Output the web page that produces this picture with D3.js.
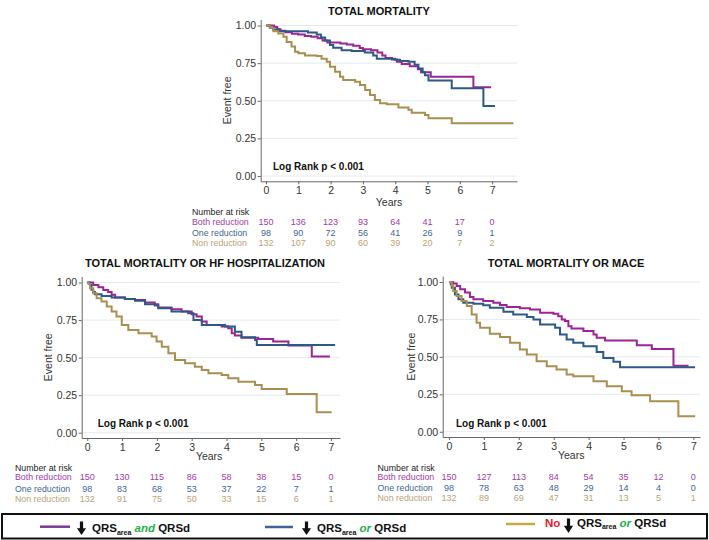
<!DOCTYPE html>
<html lang="en">
<head>
<meta charset="UTF-8">
<script src="https://cdn.jsdelivr.net/npm/d3@7"></script>
<style>
    body{margin:0;background:#fff;}
    svg text{font-family:"Liberation Sans",Arial,sans-serif;}
</style>
<title>KM curves</title>
</head>
<body>
<script>
// ---- data ----
var years = [0,1,2,3,4,5,6,7];
var yTicks = [0,0.25,0.5,0.75,1];
var groupNames = ["Both reduction","One reduction","Non reduction"];

// total mortality
var tmBoth = [[0,1],[0.25,0.99],[0.35,0.975],[0.45,0.965],[0.6,0.955],[0.8,0.945],[1.0,0.94],[1.2,0.93],[1.4,0.925],[1.6,0.915],[1.75,0.9],[1.9,0.888],[2.3,0.88],[2.5,0.874],[2.7,0.865],[2.9,0.85],[3.0,0.842],[3.25,0.835],[3.45,0.82],[3.6,0.8],[3.7,0.785],[3.9,0.775],[4.05,0.76],[4.2,0.745],[4.45,0.73],[4.7,0.71],[4.8,0.69],[5.1,0.66],[6.42,0.59],[6.97,0.59]];
var tmOne = [[0,1],[0.12,0.985],[0.22,0.973],[0.4,0.962],[1.3,0.954],[1.57,0.94],[1.7,0.92],[1.83,0.9],[1.98,0.87],[2.08,0.852],[2.34,0.836],[2.65,0.83],[3.06,0.82],[3.32,0.8],[3.43,0.78],[3.99,0.773],[4.15,0.765],[4.41,0.76],[4.6,0.74],[4.72,0.715],[4.85,0.69],[4.92,0.67],[5.03,0.635],[5.75,0.583],[6.73,0.466],[7.09,0.466]];
var tmNon = [[0,1],[0.12,0.985],[0.23,0.962],[0.38,0.947],[0.54,0.925],[0.64,0.89],[0.79,0.86],[0.9,0.826],[1.0,0.815],[1.21,0.8],[1.57,0.797],[1.72,0.78],[1.88,0.76],[1.98,0.726],[2.14,0.693],[2.29,0.66],[2.39,0.638],[2.76,0.627],[2.91,0.605],[3.07,0.572],[3.22,0.539],[3.37,0.505],[3.53,0.483],[3.74,0.477],[4.1,0.455],[4.41,0.44],[4.51,0.42],[4.92,0.406],[5.03,0.384],[5.75,0.351],[7.66,0.351]];
var tmRiskBoth = [150,136,123,93,64,41,17,0];
var tmRiskOne = [98,90,72,56,41,26,9,1];
var tmRiskNon = [132,107,90,60,39,20,7,2];

// total mortality or HF hospitalization
var hfBoth = [[0,1],[0.17,0.984],[0.32,0.968],[0.46,0.95],[0.6,0.936],[0.7,0.918],[0.8,0.9],[1.08,0.89],[1.37,0.884],[1.66,0.867],[1.94,0.847],[2.04,0.833],[2.42,0.822],[2.71,0.807],[3.0,0.789],[3.14,0.773],[3.29,0.74],[3.43,0.718],[3.86,0.707],[4.05,0.696],[4.15,0.662],[4.24,0.647],[4.43,0.633],[4.91,0.624],[5.34,0.607],[5.78,0.58],[6.45,0.507],[6.97,0.507]];
var hfOne = [[0,1],[0.08,0.984],[0.12,0.951],[0.17,0.936],[0.22,0.922],[0.41,0.91],[0.7,0.9],[1.08,0.89],[1.37,0.878],[1.66,0.856],[2.04,0.829],[2.42,0.807],[2.9,0.796],[3.05,0.751],[3.29,0.718],[3.96,0.707],[4.24,0.673],[4.43,0.636],[4.82,0.618],[4.87,0.584],[7.12,0.584]];
var hfNon = [[0,1],[0.04,0.99],[0.08,0.962],[0.17,0.929],[0.27,0.896],[0.41,0.873],[0.56,0.84],[0.7,0.807],[0.84,0.773],[0.99,0.718],[1.18,0.684],[1.47,0.662],[1.85,0.64],[1.99,0.607],[2.14,0.573],[2.33,0.529],[2.52,0.484],[2.81,0.462],[3.09,0.44],[3.29,0.418],[3.48,0.396],[3.86,0.384],[4.05,0.362],[4.34,0.34],[4.82,0.318],[5.01,0.291],[5.73,0.258],[6.59,0.136],[7.02,0.136]];
var hfRiskBoth = [150,130,115,86,58,38,15,0];
var hfRiskOne = [98,83,68,53,37,22,7,1];
var hfRiskNon = [132,91,75,50,33,15,6,1];

// total mortality or MACE
var maBoth = [[0,1],[0.12,0.99],[0.22,0.973],[0.32,0.951],[0.46,0.929],[0.6,0.9],[0.7,0.884],[0.98,0.873],[1.27,0.862],[1.46,0.846],[1.65,0.833],[2.03,0.824],[2.32,0.817],[2.61,0.795],[2.99,0.788],[3.13,0.772],[3.23,0.75],[3.32,0.739],[3.42,0.705],[3.51,0.69],[3.85,0.672],[4.14,0.65],[4.23,0.627],[4.47,0.609],[5.38,0.578],[5.81,0.553],[6.43,0.44],[6.86,0.44]];
var maOne = [[0,1],[0.05,0.985],[0.08,0.962],[0.17,0.917],[0.27,0.884],[0.41,0.862],[0.7,0.855],[0.98,0.845],[1.17,0.828],[1.56,0.801],[1.84,0.783],[2.23,0.766],[2.42,0.75],[2.61,0.717],[3.04,0.694],[3.18,0.65],[3.37,0.616],[3.56,0.594],[3.85,0.571],[4.23,0.533],[4.42,0.493],[4.71,0.467],[4.9,0.43],[7.05,0.43]];
var maNon = [[0,1],[0.08,0.975],[0.12,0.94],[0.22,0.906],[0.36,0.873],[0.51,0.839],[0.65,0.783],[0.79,0.728],[0.89,0.694],[1.17,0.654],[1.46,0.632],[1.75,0.594],[2.03,0.549],[2.23,0.516],[2.51,0.471],[2.8,0.438],[3.08,0.415],[3.37,0.382],[3.56,0.371],[4.14,0.337],[4.52,0.304],[4.95,0.27],[5.23,0.243],[5.76,0.203],[6.57,0.103],[7.05,0.103]];
var maRiskBoth = [150,127,113,84,54,35,12,0];
var maRiskOne = [98,78,63,48,29,14,4,0];
var maRiskNon = [132,89,69,47,31,13,5,1];

var curveColors = ["#9c2496","#2c5987","#a98f50"];
var riskColors = ["#a13ca4","#3f6592","#b9a376"];

var svg = d3.select("body").append("svg")
    .attr("width",709)
    .attr("height",540);

function drawPanel(p){
    var x = d3.scaleLinear().domain(p.xDom).range(p.xRange);
    var y = d3.scaleLinear().domain([-0.035,1.04]).range(p.yRange);
    var g = svg.append("g");

    // grid
    g.selectAll(".grid").data(yTicks).enter().append("line")
        .attr("x1",p.xRange[0]).attr("x2",p.xRange[1])
        .attr("y1",function(d){return y(d);}).attr("y2",function(d){return y(d);})
        .attr("stroke","#e4ebef").attr("stroke-width",1);

    var ax = g.append("g")
        .attr("transform","translate(0,"+p.yRange[0]+")")
        .call(d3.axisBottom(x).tickValues(years).tickFormat(d3.format("d")).tickSize(3).tickSizeOuter(0).tickPadding(2.5));
    var ay = g.append("g")
        .attr("transform","translate("+p.xRange[0]+",0)")
        .call(d3.axisLeft(y).tickValues(yTicks).tickFormat(d3.format(".2f")).tickSize(3).tickSizeOuter(0).tickPadding(1.5));
    [ax,ay].forEach(function(a){
        a.selectAll("path,line").attr("stroke","#666");
        a.selectAll("text").attr("fill","#333").style("font-size","10.5px")
            .style("font-family","'Liberation Sans',Arial,sans-serif");
    });

    // curves
    var line = d3.line()
        .x(function(d){return x(d[0]);})
        .y(function(d){return y(d[1]);})
        .curve(d3.curveStepAfter);
    p.curves.forEach(function(c,i){
        g.append("path").datum(c)
            .attr("d",line)
            .attr("fill","none")
            .attr("stroke",curveColors[i])
            .attr("stroke-width",2);
    });

    g.append("text").attr("x",p.titleX).attr("y",p.titleY)
        .attr("text-anchor","middle").attr("font-weight","bold")
        .attr("font-size","11px").attr("fill","#111").text(p.title);
    g.append("text")
        .attr("transform","translate("+p.yLabelX+","+((p.yRange[0]+p.yRange[1])/2)+") rotate(-90)")
        .attr("text-anchor","middle").attr("dy","0.35em")
        .attr("font-size","10.5px").attr("fill","#333").text("Event free");
    g.append("text").attr("x",(x(0)+x(7))/2+p.yearsDx).attr("y",p.yearsY)
        .attr("text-anchor","middle").attr("font-size","10.5px").attr("fill","#333").text("Years");
    g.append("text").attr("x",p.logX).attr("y",p.logY)
        .attr("font-weight","bold").attr("font-size","10px").attr("fill","#111")
        .text("Log Rank p < 0.001");

    // number at risk
    g.append("text").attr("x",p.tableX).attr("y",p.tableY[0])
        .attr("font-size","8.8px").attr("fill","#222").text("Number at risk");
    p.risks.forEach(function(r,i){
        var ty = p.tableY[i+1];
        g.append("text").attr("x",p.tableX).attr("y",ty)
            .attr("font-size","8.8px").attr("fill",riskColors[i]).text(groupNames[i]);
        g.selectAll(".r"+i).data(r).enter().append("text")
            .attr("x",function(d,j){return x(years[j]);})
            .attr("y",ty)
            .attr("text-anchor","middle")
            .attr("font-size","9px").attr("fill",riskColors[i])
            .text(function(d){return d;});
    });
}

drawPanel({
    title:"TOTAL MORTALITY", titleX:379, titleY:14.5,
    xDom:[-0.164,7.77], xRange:[260.7,517], yRange:[181.3,19.5],
    curves:[tmBoth,tmOne,tmNon], risks:[tmRiskBoth,tmRiskOne,tmRiskNon],
    yLabelX:227.5, yearsY:206, yearsDx:10, logX:273, logY:170,
    tableX:192, tableY:[215,225.3,235.8,246.2]
});
drawPanel({
    title:"TOTAL MORTALITY OR HF HOSPITALIZATION", titleX:205, titleY:266.5,
    xDom:[-0.16,7.26], xRange:[81.7,340], yRange:[438,276.5],
    curves:[hfBoth,hfOne,hfNon], risks:[hfRiskBoth,hfRiskOne,hfRiskNon],
    yLabelX:48.5, yearsY:459.5, yearsDx:0, logX:97.7, logY:427.3,
    tableX:15, tableY:[470.8,480,491.5,502.3]
});
drawPanel({
    title:"TOTAL MORTALITY OR MACE", titleX:566, titleY:266.5,
    xDom:[-0.18,7.19], xRange:[442.7,700], yRange:[437,276],
    curves:[maBoth,maOne,maNon], risks:[maRiskBoth,maRiskOne,maRiskNon],
    yLabelX:411.7, yearsY:459, yearsDx:0, logX:456, logY:426.7,
    tableX:377.5, tableY:[470.6,480.3,490.6,501]
});

// ---- legend ----
var leg = svg.append("g");
leg.append("rect").attr("x",2).attr("y",514).attr("width",705).attr("height",24.5)
    .attr("fill","none").attr("stroke","#111").attr("stroke-width",2);

function arrow(cx,top,bot){
    var hh = (bot-top)*0.5;
    leg.append("path")
        .attr("d","M"+(cx-1.6)+","+top+"L"+(cx+1.6)+","+top+"L"+(cx+1.6)+","+(bot-hh)+
            "L"+(cx+4.6)+","+(bot-hh)+"L"+cx+","+bot+"L"+(cx-4.6)+","+(bot-hh)+"L"+(cx-1.6)+","+(bot-hh)+"Z")
        .attr("fill","#111");
}
function qrsText(xp,yp,word){
    var t = leg.append("text").attr("x",xp).attr("y",yp)
        .attr("font-weight","bold").attr("font-size","11.5px").attr("fill","#111");
    t.append("tspan").text("QRS");
    t.append("tspan").attr("dy",2.5).attr("font-size","7px").text("area");
    t.append("tspan").attr("dy",-2.5).attr("fill","#22b04a").attr("font-style","italic").text(" "+word+" ");
    t.append("tspan").text("QRSd");
}
var legendColors = ["#7d3a90","#3c6394","#c8a847"];
var legendItems = [
    {x1:40,x2:70,ly:526.7,arrowX:81.5,aTop:521.5,aBot:535,tx:92,ty:532,word:"and"},
    {x1:265,x2:293,ly:527,arrowX:306.5,aTop:521.5,aBot:535,tx:317,ty:532,word:"or"},
    {x1:506,x2:535,ly:524,arrowX:568.5,aTop:518.5,aBot:533,tx:577,ty:526.5,word:"or"}
];
legendItems.forEach(function(d,i){
    leg.append("line").attr("x1",d.x1).attr("x2",d.x2).attr("y1",d.ly).attr("y2",d.ly)
        .attr("stroke",legendColors[i]).attr("stroke-width",2.5);
    arrow(d.arrowX,d.aTop,d.aBot);
    qrsText(d.tx,d.ty,d.word);
});
leg.append("text").attr("x",545).attr("y",526.5)
    .attr("font-weight","bold").attr("font-size","11.5px").attr("fill","#e3202a").text("No");
</script>
</body>
</html>
